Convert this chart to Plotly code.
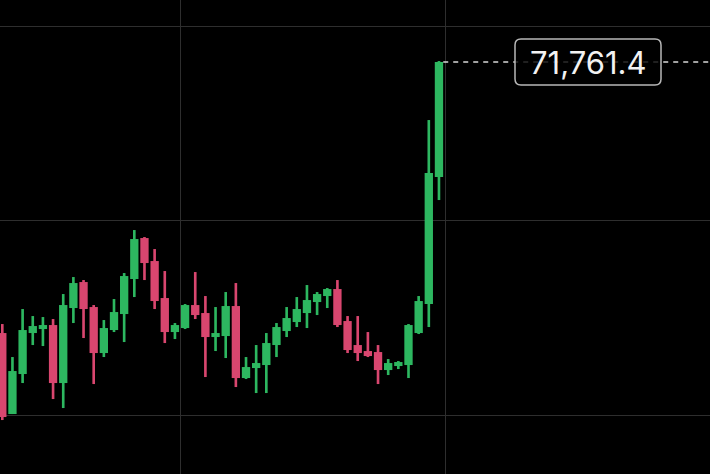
import plotly.graph_objects as go

# ---- data ----
candle_index = list(range(44))
open_ = [69051, 68241, 68641, 69051, 69091, 69131, 68551, 69301, 69561, 69311,
         68851, 69081, 69241, 69591, 70001, 69771, 69401, 69061, 69101, 69331,
         69251, 69011, 69021, 69321, 68601, 68701, 68731, 68931, 69071, 69161,
         69251, 69361, 69421, 69491, 69171, 68931, 68871, 68861, 68681, 68721,
         68731, 69051, 69341, 70611]
high = [69141, 68811, 69291, 69221, 69211, 69191, 69441, 69611, 69581, 69331,
        69181, 69391, 69651, 70081, 70011, 69891, 69671, 69151, 69341, 69661,
        69421, 69311, 69461, 69551, 68811, 68931, 69051, 69151, 69311, 69411,
        69531, 69461, 69501, 69581, 69221, 69221, 69061, 68931, 68791, 68771,
        69141, 69421, 71181, 71771]
low = [68181, 68241, 68551, 68931, 68921, 68391, 68301, 69151, 69001, 68541,
       68811, 69061, 68961, 69411, 69581, 69291, 68951, 68991, 69091, 69191,
       68611, 68871, 68801, 68511, 68591, 68451, 68451, 68811, 69011, 69111,
       69101, 69231, 69301, 69111, 68851, 68771, 68811, 68541, 68631, 68691,
       68601, 69041, 69111, 70381]
close = [68211, 68671, 69081, 69121, 69131, 68551, 69331, 69551, 69291, 68851,
         69101, 69261, 69621, 69991, 69751, 69371, 69061, 69131, 69331, 69231,
         69011, 69051, 69321, 68601, 68711, 68751, 68951, 69111, 69201, 69291,
         69381, 69441, 69491, 69131, 68881, 68851, 68821, 68681, 68751, 68761,
         69131, 69371, 70651, 71761.4]
grid_prices = [68230, 70180, 72120]
grid_times = [17.5, 43.6]
last_label = "71,761.4"

# ---- style ----
GREEN = "#2DB760"
RED = "#D9466F"
y_range = [67641.4, 72381.4]
x_range = [-0.226, 69.69]
min_body = 25

colors = [GREEN if c >= o else RED for o, c in zip(open_, close)]
body_base = [min(o, c) for o, c in zip(open_, close)]
body_h = [max(abs(c - o), min_body) for o, c in zip(open_, close)]
wick_h = [h - l for h, l in zip(high, low)]

fig = go.Figure()
fig.add_bar(x=candle_index, y=wick_h, base=low, width=0.26,
            marker=dict(color=colors, line=dict(width=0)), hoverinfo="skip")
fig.add_bar(x=candle_index, y=body_h, base=body_base, width=0.82,
            marker=dict(color=colors, line=dict(width=0)), hoverinfo="skip")

last = close[-1]
# dashed last-price line
fig.add_shape(type="line", xref="x", yref="y",
              x0=candle_index[-1] + 0.42, x1=x_range[1] + 1, y0=last, y1=last,
              line=dict(color="#d8d8d8", width=1.5, dash="5px,5px"), layer="above")

# rounded label box (paper x, data y)
x0, x1 = 515 / 710, 661 / 710
half_h = 230
y0, y1 = last - half_h, last + half_h
rx, ry = 6 / 710, 60
path = (f"M {x0+rx},{y0} L {x1-rx},{y0} Q {x1},{y0} {x1},{y0+ry} "
        f"L {x1},{y1-ry} Q {x1},{y1} {x1-rx},{y1} L {x0+rx},{y1} "
        f"Q {x0},{y1} {x0},{y1-ry} L {x0},{y0+ry} Q {x0},{y0} {x0+rx},{y0} Z")
fig.add_shape(type="path", xref="paper", yref="y", path=path,
              fillcolor="rgba(0,0,0,0.8)", line=dict(color="#b8b8b8", width=1.5),
              layer="above")
fig.add_annotation(x=(x0 + x1) / 2, y=last, xref="paper", yref="y",
                   text=last_label, showarrow=False, xanchor="center", yanchor="middle",
                   font=dict(family="Inter, Roboto, sans-serif", size=31, color="#f2f2f2"))

fig.update_layout(
    width=710, height=474,
    margin=dict(l=0, r=0, t=0, b=0),
    paper_bgcolor="black", plot_bgcolor="black",
    showlegend=False, barmode="overlay",
    xaxis=dict(range=x_range, tickvals=grid_times, showticklabels=False,
               showgrid=True, gridcolor="#2e2e2e", gridwidth=1, zeroline=False,
               showline=False, ticks=""),
    yaxis=dict(range=y_range, tickvals=grid_prices, showticklabels=False,
               showgrid=True, gridcolor="#2e2e2e", gridwidth=1, zeroline=False,
               showline=False, ticks=""),
)

fig.write_html(
    "out.html",
    config={"displayModeBar": False},
    post_script="document.body.style.margin='0';document.body.style.background='black';document.body.style.overflow='hidden';",
)
